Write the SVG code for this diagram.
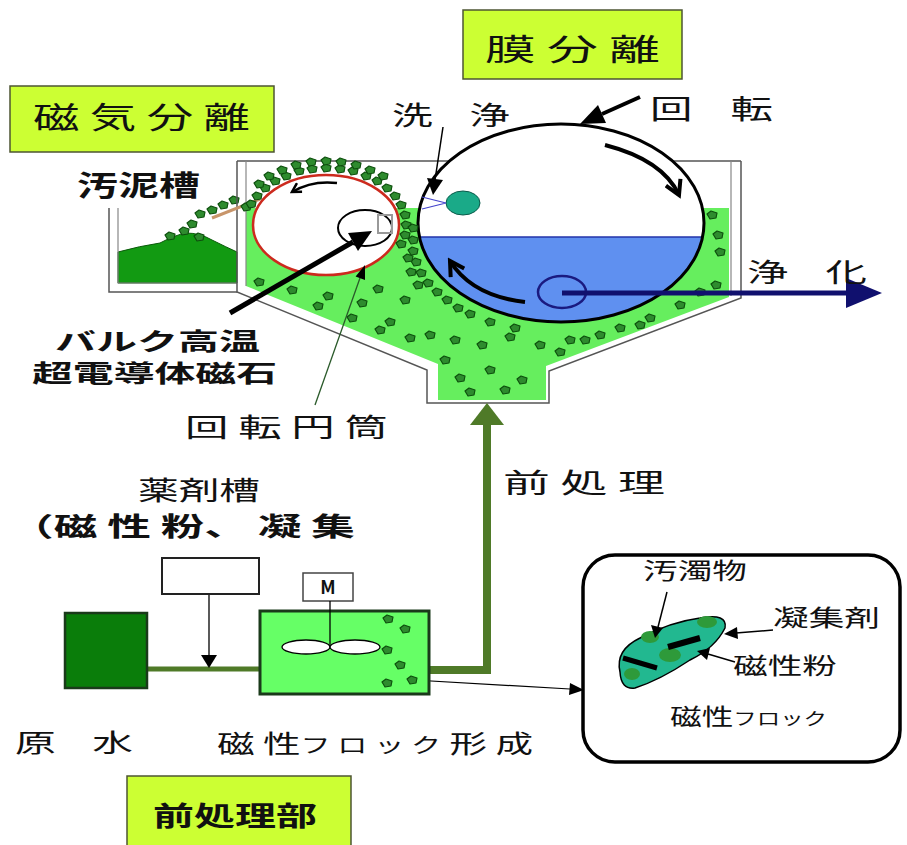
<svg xmlns="http://www.w3.org/2000/svg" width="907" height="845" viewBox="0 0 907 845">
  <style>
    .t { font-family: "Noto Sans CJK JP", "Noto Sans CJK SC", sans-serif; fill: #111; }
    .b { font-weight: bold; }
    .lbl { fill: #ccff33; stroke: #4d5533; stroke-width: 1.5; }
    .wall { fill: none; stroke: #555; stroke-width: 1.5; }
    .wall2 { fill: none; stroke: #888; stroke-width: 1.2; }
    .pipe { fill: none; stroke: #4f7a28; }
  </style>
  <defs>
    <path id="fl" d="M-5,-1 L-1,-4 L5,-2 L4,3 L-2,4 Z" fill="#2e8b2e" stroke="#0d4f0d" stroke-width="1.2" stroke-linejoin="round"/>
    <marker id="chev" viewBox="0 0 10 10" refX="8" refY="5" markerWidth="5" markerHeight="5" orient="auto" markerUnits="strokeWidth">
      <path d="M1,1 L8,5 L1,9" fill="none" stroke="#000" stroke-width="2"/>
    </marker>
    <clipPath id="lower"><rect x="400" y="237" width="320" height="100"/></clipPath>
  </defs>

  <!-- section labels -->
  <g id="label-magnetic">
    <rect class="lbl" x="10" y="86" width="264" height="66"/>
    <text class="t" x="33" y="128" font-size="30" textLength="217" lengthAdjust="spacingAndGlyphs">磁 気 分 離</text>
  </g>
  <g id="label-membrane">
    <rect class="lbl" x="463" y="10" width="219" height="69"/>
    <text class="t" x="485" y="60" font-size="30" textLength="175" lengthAdjust="spacingAndGlyphs">膜 分 離</text>
  </g>
  <g id="label-pretreat">
    <rect class="lbl" x="127" y="776" width="224" height="80"/>
    <text class="t b" x="153" y="826" font-size="27" textLength="164" lengthAdjust="spacingAndGlyphs">前処理部</text>
  </g>

  <!-- sludge tank -->
  <g id="sludge-tank">
    <path d="M118,283 V252 Q140,246 160,243 Q175,235 186,233 Q200,233 212,240 Q226,247 237,252 V283 Z" fill="#129a12" stroke="#0a5a0a" stroke-width="1"/>
    <path class="wall" d="M109,208 V292 H237"/>
    <path class="wall2" d="M118,208 V283 H237"/>
    <use href="#fl" x="170" y="236"/>
    <use href="#fl" x="184" y="231"/>
    <use href="#fl" x="199" y="237"/>
    <use href="#fl" x="192" y="224"/>
    <use href="#fl" x="200" y="214"/>
    <use href="#fl" x="212" y="210"/>
    <use href="#fl" x="223" y="205"/>
    <use href="#fl" x="234" y="200"/>
    <text class="t b" x="77" y="196" font-size="28" textLength="123" lengthAdjust="spacingAndGlyphs">汚泥槽</text>
  </g>

  <!-- separation tank -->
  <g id="separation-tank">
    <path d="M246,208 V286 L438,364 V400 H546 V366 L729,297 V208 Z" fill="#66ee5e"/>
    <path class="wall" d="M237,161 V292 L427,370 V403 H549 V371 L741,298 V161 M237,161 H741"/>
    <path class="wall2" d="M246,161 V286 M731,161 V296"/>
    <g id="flocs-tank">
      <use href="#fl" x="259" y="282"/><use href="#fl" x="292" y="290"/><use href="#fl" x="328" y="296"/>
      <use href="#fl" x="362" y="303"/><use href="#fl" x="378" y="289"/><use href="#fl" x="405" y="300"/>
      <use href="#fl" x="318" y="306"/><use href="#fl" x="352" y="318"/><use href="#fl" x="390" y="322"/>
      <use href="#fl" x="430" y="335"/><use href="#fl" x="455" y="340"/><use href="#fl" x="482" y="345"/>
      <use href="#fl" x="510" y="337"/><use href="#fl" x="540" y="345"/><use href="#fl" x="570" y="340"/>
      <use href="#fl" x="600" y="335"/><use href="#fl" x="620" y="328"/><use href="#fl" x="650" y="318"/>
      <use href="#fl" x="680" y="305"/><use href="#fl" x="700" y="292"/><use href="#fl" x="716" y="285"/>
      <use href="#fl" x="720" y="252"/><use href="#fl" x="712" y="215"/><use href="#fl" x="718" y="235"/>
      <use href="#fl" x="460" y="378"/><use href="#fl" x="490" y="370"/><use href="#fl" x="505" y="390"/>
      <use href="#fl" x="470" y="392"/><use href="#fl" x="522" y="380"/><use href="#fl" x="445" y="360"/>
      <use href="#fl" x="410" y="338"/><use href="#fl" x="380" y="330"/><use href="#fl" x="560" y="352"/>
      <use href="#fl" x="585" y="340"/><use href="#fl" x="640" y="325"/>
    </g>
  </g>

  <!-- scraper blade -->
  <line x1="212" y1="218" x2="260" y2="199" stroke="#c8956a" stroke-width="3"/>

  <!-- magnetic rotating drum -->
  <g id="magnet-drum">
    <ellipse cx="326" cy="225" rx="73" ry="50" fill="#fff" stroke="#cc2a1e" stroke-width="2.5"/>
    <ellipse cx="365" cy="228" rx="27" ry="18" fill="#fff" stroke="#000" stroke-width="2"/>
    <rect x="378" y="215" width="14" height="18" fill="none" stroke="#999" stroke-width="2"/>
    <path d="M337,183 Q312,180 292,192" fill="none" stroke="#000" stroke-width="2.5" marker-end="url(#chev)"/>
  </g>

  <!-- membrane drum -->
  <g id="membrane-drum">
    <ellipse cx="561" cy="223" rx="143" ry="99" fill="#fff"/>
    <ellipse cx="561" cy="223" rx="143" ry="99" fill="#5f90f0" clip-path="url(#lower)"/>
    <line x1="419" y1="237" x2="703" y2="237" stroke="#2233aa" stroke-width="1.5"/>
    <ellipse cx="561" cy="223" rx="143" ry="99" fill="none" stroke="#000" stroke-width="3"/>
    <path d="M605,145 Q663,160 679,195" fill="none" stroke="#000" stroke-width="4" marker-end="url(#chev)"/>
    <path d="M525,302 Q472,296 450,261" fill="none" stroke="#000" stroke-width="4" marker-end="url(#chev)"/>
    <ellipse cx="562" cy="292" rx="24" ry="16" fill="none" stroke="#1a1a80" stroke-width="2.5"/>
    <ellipse cx="463" cy="203" rx="17" ry="12" fill="#1aaa88" stroke="#0a5a4a" stroke-width="1"/>
    <path d="M446,203 L422,197 M446,203 L422,209" fill="none" stroke="#4444cc" stroke-width="1.2"/>
  </g>

  <!-- floc chain on drum surfaces -->
  <g id="floc-chain">
    <use href="#fl" x="246" y="207"/><use href="#fl" x="251" y="204"/><use href="#fl" x="257" y="196"/>
    <use href="#fl" x="265" y="188"/><use href="#fl" x="275" y="181"/><use href="#fl" x="286" y="176"/>
    <use href="#fl" x="299" y="171"/><use href="#fl" x="312" y="169"/><use href="#fl" x="326" y="168"/>
    <use href="#fl" x="340" y="169"/><use href="#fl" x="353" y="171"/><use href="#fl" x="366" y="176"/>
    <use href="#fl" x="377" y="181"/><use href="#fl" x="387" y="188"/><use href="#fl" x="395" y="196"/>
    <use href="#fl" x="401" y="205"/><use href="#fl" x="405" y="215"/><use href="#fl" x="406" y="225"/>
    <use href="#fl" x="405" y="235"/><use href="#fl" x="401" y="244"/>
    <use href="#fl" x="259" y="184"/><use href="#fl" x="269" y="176"/><use href="#fl" x="282" y="170"/>
    <use href="#fl" x="296" y="165"/><use href="#fl" x="311" y="162"/><use href="#fl" x="326" y="161"/>
    <use href="#fl" x="341" y="162"/><use href="#fl" x="356" y="165"/><use href="#fl" x="370" y="170"/>
    <use href="#fl" x="383" y="176"/>
    <use href="#fl" x="413" y="228"/><use href="#fl" x="413" y="240"/><use href="#fl" x="413" y="251"/>
    <use href="#fl" x="416" y="262"/><use href="#fl" x="421" y="273"/><use href="#fl" x="428" y="283"/>
    <use href="#fl" x="437" y="292"/><use href="#fl" x="447" y="300"/><use href="#fl" x="458" y="308"/>
    <use href="#fl" x="470" y="314"/><use href="#fl" x="490" y="322"/><use href="#fl" x="515" y="328"/>
    <use href="#fl" x="408" y="258"/><use href="#fl" x="411" y="272"/><use href="#fl" x="418" y="285"/>
  </g>

  <!-- connectors -->
  <g id="connectors">
    <!-- magnet pointer -->
    <line x1="230" y1="313" x2="353" y2="242" stroke="#000" stroke-width="5"/>
    <polygon points="372,231 358,251 348,233" fill="#000"/>
    <!-- rotating cylinder pointer -->
    <line x1="315" y1="405" x2="360" y2="278" stroke="#2a5a2a" stroke-width="1.3"/>
    <polygon points="365,265 365,280 355.6,276.5" fill="#000"/>
    <!-- cleaning pointer -->
    <line x1="443" y1="127" x2="435" y2="180" stroke="#000" stroke-width="1.5"/>
    <polygon points="433,195 443,180 427,178" fill="#000"/>
    <!-- rotation pointer -->
    <line x1="640" y1="97" x2="602" y2="114" stroke="#000" stroke-width="4"/>
    <polygon points="580,124 606,123 598,105" fill="#000"/>
    <!-- permeate outlet -->
    <line x1="562" y1="293" x2="848" y2="293" stroke="#10106e" stroke-width="5"/>
    <polygon points="846,278 882,293 846,308" fill="#10106e"/>
    <!-- raw water pipe -->
    <line class="pipe" x1="147" y1="669" x2="260" y2="669" stroke-width="5"/>
    <!-- chemical dosing -->
    <line x1="209" y1="594" x2="209" y2="656" stroke="#000" stroke-width="1.3"/>
    <polygon points="201,655 217,655 209,668" fill="#000"/>
    <!-- pretreated water to separation tank -->
    <path class="pipe" d="M429,670 H487 V424" stroke-width="8"/>
    <polygon points="470,425 487,403 504,425" fill="#4f7a28"/>
    <!-- floc detail pointer -->
    <line x1="414" y1="680" x2="570" y2="689" stroke="#000" stroke-width="1.2"/>
    <polygon points="584,690 569,695 570,683" fill="#000"/>
  </g>

  <!-- pretreatment units -->
  <g id="raw-water-tank">
    <rect x="65" y="613" width="82" height="75" fill="#0a7d0a" stroke="#1a3a1a" stroke-width="2.5"/>
  </g>
  <g id="chemical-tank">
    <rect x="162" y="558" width="97" height="36" fill="#fff" stroke="#222" stroke-width="2"/>
  </g>
  <g id="mixing-tank">
    <rect x="260" y="611" width="169" height="83" fill="#66ff66" stroke="#1a3a1a" stroke-width="3"/>
    <rect x="303" y="573" width="50" height="28" fill="#fff" stroke="#444" stroke-width="1.5"/>
    <text class="t b" x="328" y="594" font-size="18" text-anchor="middle">M</text>
    <line x1="330" y1="601" x2="330" y2="647" stroke="#000" stroke-width="1.3"/>
    <ellipse cx="306" cy="647" rx="24" ry="7" fill="#fff" stroke="#000" stroke-width="1.3"/>
    <ellipse cx="355" cy="647" rx="25" ry="7" fill="#fff" stroke="#000" stroke-width="1.3"/>
    <use href="#fl" x="388" y="619"/><use href="#fl" x="405" y="629"/><use href="#fl" x="387" y="650"/>
    <use href="#fl" x="400" y="665"/><use href="#fl" x="387" y="683"/><use href="#fl" x="412" y="680"/>
  </g>

  <!-- magnetic floc detail -->
  <g id="floc-detail">
    <rect x="583" y="555" width="317" height="207" rx="32" fill="#fff" stroke="#000" stroke-width="3.5"/>
    <path d="M620,672 Q615,650 640,638 Q670,622 700,618 Q728,613 725,628 Q715,648 690,660 Q660,680 635,688 Q621,690 620,672 Z" fill="#22b890" stroke="#000" stroke-width="1.5"/>
    <ellipse cx="650" cy="637" rx="9" ry="6" fill="#2e9a3a"/>
    <ellipse cx="707" cy="622" rx="10" ry="6" fill="#2e9a3a"/>
    <ellipse cx="670" cy="655" rx="11" ry="7" fill="#2e9a3a"/>
    <ellipse cx="632" cy="674" rx="8" ry="6" fill="#2e9a3a"/>
    <line x1="623" y1="658" x2="657" y2="668" stroke="#000" stroke-width="5"/>
    <line x1="668" y1="647" x2="700" y2="638" stroke="#000" stroke-width="6"/>
    <line x1="667" y1="592" x2="658" y2="627" stroke="#000" stroke-width="1.5"/>
    <polygon points="655,638 651,625 663,628" fill="#000"/>
    <line x1="773" y1="630" x2="736" y2="633" stroke="#000" stroke-width="1.5"/>
    <polygon points="724,634 737,627 738,639" fill="#000"/>
    <line x1="735" y1="662" x2="708" y2="654" stroke="#000" stroke-width="1.5"/>
    <polygon points="697,651 710,648 707,660" fill="#000"/>
    <text class="t" x="643" y="579" font-size="23" textLength="104" lengthAdjust="spacingAndGlyphs">汚濁物</text>
    <text class="t" x="773" y="626" font-size="23" textLength="107" lengthAdjust="spacingAndGlyphs">凝集剤</text>
    <text class="t" x="733" y="674" font-size="23" textLength="104" lengthAdjust="spacingAndGlyphs">磁性粉</text>
    <text class="t" x="670" y="725" font-size="23" textLength="157" lengthAdjust="spacingAndGlyphs">磁性<tspan font-size="17">フロック</tspan></text>
  </g>

  <!-- labels -->
  <g id="labels">
    <text class="t" x="392" y="125" font-size="26" textLength="118" lengthAdjust="spacingAndGlyphs" xml:space="preserve">洗    浄</text>
    <text class="t" x="650" y="119" font-size="27" textLength="123" lengthAdjust="spacingAndGlyphs" xml:space="preserve">回    転</text>
    <text class="t" x="747" y="282" font-size="26" textLength="120" lengthAdjust="spacingAndGlyphs" xml:space="preserve">浄    化</text>
    <text class="t b" x="55" y="350" font-size="24" textLength="205" lengthAdjust="spacingAndGlyphs">バルク高温</text>
    <text class="t b" x="32" y="382" font-size="24" textLength="245" lengthAdjust="spacingAndGlyphs">超電導体磁石</text>
    <text class="t" x="185" y="437" font-size="26" textLength="203" lengthAdjust="spacingAndGlyphs">回 転 円 筒</text>
    <text class="t" x="503" y="493" font-size="27" textLength="162" lengthAdjust="spacingAndGlyphs">前 処 理</text>
    <text class="t" x="138" y="500" font-size="26" textLength="122" lengthAdjust="spacingAndGlyphs">薬剤槽</text>
    <text class="t b" x="10" y="536" font-size="26" textLength="345" lengthAdjust="spacingAndGlyphs">（磁 性 粉、 凝 集</text>
    <text class="t" x="15" y="752" font-size="25" textLength="118" lengthAdjust="spacingAndGlyphs" xml:space="preserve">原    水</text>
    <text class="t" x="217" y="753" font-size="25" textLength="316" lengthAdjust="spacingAndGlyphs">磁 性<tspan font-size="20">フ ロ ッ ク</tspan> 形 成</text>
  </g>
</svg>
